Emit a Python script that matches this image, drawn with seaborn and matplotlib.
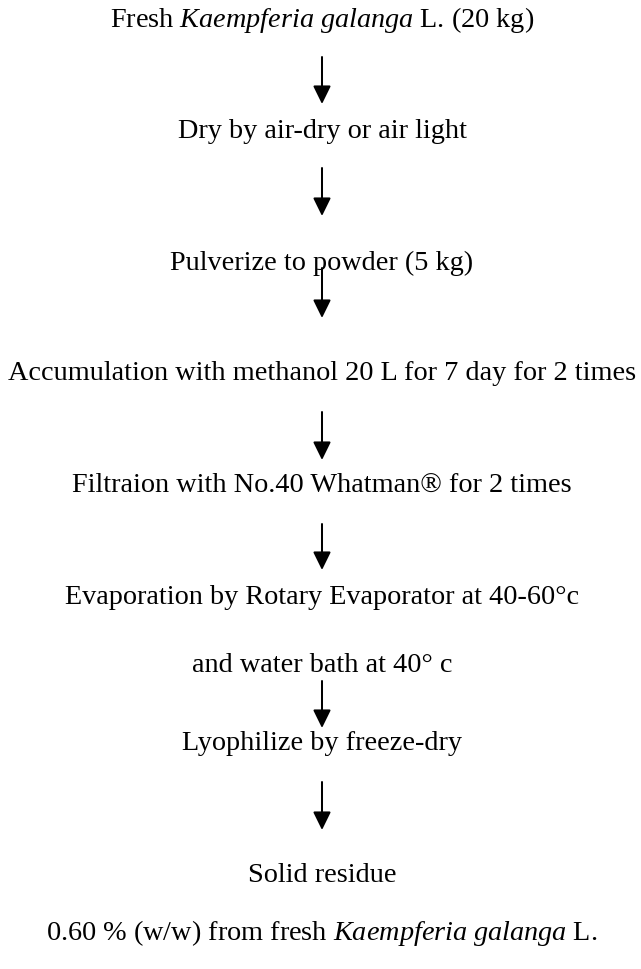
import seaborn as sns
import matplotlib.pyplot as plt

# flow steps (top to bottom); mathtext used for the italic species name
steps = [
    r"Fresh $\mathit{Kaempferia\ galanga}$ L. (20 kg)",
    "Dry by air-dry or air light",
    "Pulverize to powder (5 kg)",
    "Accumulation with methanol 20 L for 7 day for 2 times",
    "Filtraion with No.40 Whatman® for 2 times",
    "Evaporation by Rotary Evaporator at 40-60°c",
    "and water bath at 40° c",
    "Lyophilize by freeze-dry",
    "Solid residue",
    r"0.60 % (w/w) from fresh $\mathit{Kaempferia\ galanga}$ L.",
]
# vertical position of each text line (pixel rows)
step_y = [20, 131, 263, 373, 485, 597, 665, 744, 875, 933]
# arrows: (start row, end row)
arrows = [(57, 104), (168, 216), (268, 318), (412, 460), (524, 570), (681, 728), (782, 830)]

sns.set_style("white")
plt.rcParams['font.family'] = ['Liberation Serif', 'DejaVu Serif']
plt.rcParams['mathtext.fontset'] = 'custom'
plt.rcParams['mathtext.rm'] = 'Liberation Serif'
plt.rcParams['mathtext.it'] = 'Liberation Serif:italic'

fig, ax = plt.subplots(figsize=(6.41, 9.69), dpi=100)
fig.subplots_adjust(0, 0, 1, 1)
ax.set_xlim(0, 641)
ax.set_ylim(969, 0)
ax.axis('off')

cx = 322
for txt, y in zip(steps, step_y):
    ax.text(cx, y, txt, ha='center', va='center', fontsize=20.3, color='black')

for y0, y1 in arrows:
    ax.annotate('', xy=(cx, y1), xytext=(cx, y0),
                arrowprops=dict(arrowstyle='-|>,head_length=0.55,head_width=0.27',
                                mutation_scale=20, lw=1.45, color='black',
                                shrinkA=0, shrinkB=0))

fig.savefig('out.png', dpi=100, facecolor='white')
